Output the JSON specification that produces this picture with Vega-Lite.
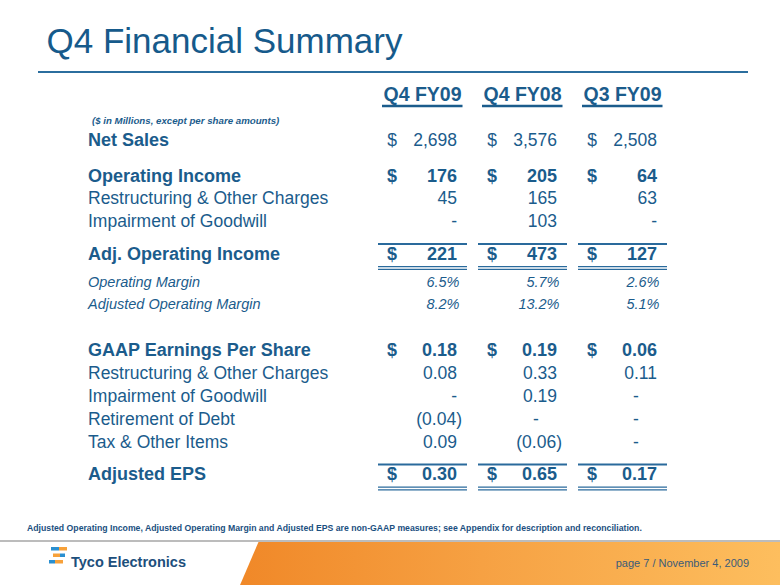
{
  "$schema": "https://vega.github.io/schema/vega-lite/v6.json",
  "width": 780,
  "height": 585,
  "padding": 0,
  "autosize": {"type": "none"},
  "background": "#ffffff",
  "config": {"view": {"stroke": null}, "text": {"font": "Liberation Sans", "color": "#1b5c8c"}},
  "datasets": {
    "periods": [
      {"col": 1, "period": "Q4 FY09"},
      {"col": 2, "period": "Q4 FY08"},
      {"col": 3, "period": "Q3 FY09"}
    ],
    "rows": [
      {"line": 0, "label": "Net Sales", "kind": "sales"},
      {"line": 1.58, "label": "Operating Income", "kind": "gaap"},
      {"line": 2.54, "label": "Restructuring & Other Charges", "kind": "detail"},
      {"line": 3.55, "label": "Impairment of Goodwill", "kind": "detail"},
      {"line": 5.0, "label": "Adj. Operating Income", "kind": "adjusted"},
      {"line": 6.23, "label": "Operating Margin", "kind": "ratio"},
      {"line": 7.19, "label": "Adjusted Operating Margin", "kind": "ratio"},
      {"line": 9.21, "label": "GAAP Earnings Per Share", "kind": "gaap"},
      {"line": 10.22, "label": "Restructuring & Other Charges", "kind": "detail"},
      {"line": 11.23, "label": "Impairment of Goodwill", "kind": "detail"},
      {"line": 12.24, "label": "Retirement of Debt", "kind": "detail"},
      {"line": 13.25, "label": "Tax & Other Items", "kind": "detail"},
      {"line": 14.67, "label": "Adjusted EPS", "kind": "adjusted"}
    ],
    "cells": [
      {"line": 0, "col": 1, "text": "2,698", "kind": "sales"},
      {"line": 0, "col": 2, "text": "3,576", "kind": "sales"},
      {"line": 0, "col": 3, "text": "2,508", "kind": "sales"},
      {"line": 1.58, "col": 1, "text": "176", "kind": "gaap"},
      {"line": 1.58, "col": 2, "text": "205", "kind": "gaap"},
      {"line": 1.58, "col": 3, "text": "64", "kind": "gaap"},
      {"line": 2.54, "col": 1, "text": "45", "kind": "detail"},
      {"line": 2.54, "col": 2, "text": "165", "kind": "detail"},
      {"line": 2.54, "col": 3, "text": "63", "kind": "detail"},
      {"line": 3.55, "col": 1, "text": "-", "kind": "detail"},
      {"line": 3.55, "col": 2, "text": "103", "kind": "detail"},
      {"line": 3.55, "col": 3, "text": "-", "kind": "detail"},
      {"line": 5.0, "col": 1, "text": "221", "kind": "adjusted"},
      {"line": 5.0, "col": 2, "text": "473", "kind": "adjusted"},
      {"line": 5.0, "col": 3, "text": "127", "kind": "adjusted"},
      {"line": 6.23, "col": 1, "text": "6.5%", "kind": "ratio"},
      {"line": 6.23, "col": 2, "text": "5.7%", "kind": "ratio"},
      {"line": 6.23, "col": 3, "text": "2.6%", "kind": "ratio"},
      {"line": 7.19, "col": 1, "text": "8.2%", "kind": "ratio"},
      {"line": 7.19, "col": 2, "text": "13.2%", "kind": "ratio"},
      {"line": 7.19, "col": 3, "text": "5.1%", "kind": "ratio"},
      {"line": 9.21, "col": 1, "text": "0.18", "kind": "gaap"},
      {"line": 9.21, "col": 2, "text": "0.19", "kind": "gaap"},
      {"line": 9.21, "col": 3, "text": "0.06", "kind": "gaap"},
      {"line": 10.22, "col": 1, "text": "0.08", "kind": "detail"},
      {"line": 10.22, "col": 2, "text": "0.33", "kind": "detail"},
      {"line": 10.22, "col": 3, "text": "0.11", "kind": "detail"},
      {"line": 11.23, "col": 1, "text": "-", "kind": "detail"},
      {"line": 11.23, "col": 2, "text": "0.19", "kind": "detail"},
      {"line": 11.23, "col": 3, "text": "-", "kind": "detail"},
      {"line": 12.24, "col": 1, "text": "(0.04)", "kind": "detail"},
      {"line": 12.24, "col": 2, "text": "-", "kind": "detail"},
      {"line": 12.24, "col": 3, "text": "-", "kind": "detail"},
      {"line": 13.25, "col": 1, "text": "0.09", "kind": "detail"},
      {"line": 13.25, "col": 2, "text": "(0.06)", "kind": "detail"},
      {"line": 13.25, "col": 3, "text": "-", "kind": "detail"},
      {"line": 14.67, "col": 1, "text": "0.30", "kind": "adjusted"},
      {"line": 14.67, "col": 2, "text": "0.65", "kind": "adjusted"},
      {"line": 14.67, "col": 3, "text": "0.17", "kind": "adjusted"}
    ]
  },
  "resolve": {"scale": {"x": "independent", "y": "independent"}},
  "layer": [
    {
      "data": {"values": [{}]},
      "layer": [
        {
          "mark": {"type": "rect", "fill": {"gradient": "linear", "x1": 0, "y1": 0, "x2": 1, "y2": 0, "stops": [{"offset": 0, "color": "#f08828"}, {"offset": 0.45, "color": "#f6a143"}, {"offset": 1, "color": "#fdbe5e"}]}},
          "encoding": {
            "x": {"datum": 238, "type": "quantitative", "scale": {"domain": [0, 780], "range": [0, 780], "nice": false, "zero": false}, "axis": null},
            "x2": {"datum": 780},
            "y": {"datum": 542, "type": "quantitative", "scale": {"domain": [0, 585], "range": [0, 585], "nice": false, "zero": false}, "axis": null},
            "y2": {"datum": 585}
          }
        },
        {
          "mark": {"type": "rule", "color": "#ffffff", "strokeWidth": 20, "strokeCap": "butt"},
          "encoding": {
            "x": {"datum": 254.4, "type": "quantitative", "scale": {"domain": [0, 780], "range": [0, 780], "nice": false, "zero": false}, "axis": null},
            "x2": {"datum": 224.4},
            "y": {"datum": 526.1, "type": "quantitative", "scale": {"domain": [0, 585], "range": [0, 585], "nice": false, "zero": false}, "axis": null},
            "y2": {"datum": 596.1}
          }
        },
        {
          "mark": {"type": "rule", "color": "#a6a6a6", "strokeWidth": 1.5},
          "encoding": {
            "x": {"datum": 0, "type": "quantitative", "scale": {"domain": [0, 780], "range": [0, 780], "nice": false, "zero": false}, "axis": null},
            "x2": {"datum": 780},
            "y": {"datum": 541, "type": "quantitative", "scale": {"domain": [0, 585], "range": [0, 585], "nice": false, "zero": false}, "axis": null}
          }
        },
        {
          "mark": {"type": "text", "text": "Adjusted Operating Income, Adjusted Operating Margin and Adjusted EPS are non-GAAP measures; see Appendix for description and reconciliation.", "font": "Liberation Sans", "fontWeight": "bold", "fontSize": 8.7, "align": "left", "baseline": "middle", "color": "#1a4f80"},
          "encoding": {
            "x": {"datum": 27, "type": "quantitative", "scale": {"domain": [0, 780], "range": [0, 780], "nice": false, "zero": false}, "axis": null},
            "y": {"datum": 528, "type": "quantitative", "scale": {"domain": [0, 585], "range": [0, 585], "nice": false, "zero": false}, "axis": null}
          }
        },
        {
          "mark": {"type": "text", "text": "Q4 Financial Summary", "fontSize": 35, "align": "left", "baseline": "alphabetic", "color": "#165a8b"},
          "encoding": {
            "x": {"datum": 46.5, "type": "quantitative", "scale": {"domain": [0, 780], "range": [0, 780], "nice": false, "zero": false}, "axis": null},
            "y": {"datum": 52.5, "type": "quantitative", "scale": {"domain": [0, 585], "range": [0, 585], "nice": false, "zero": false}, "axis": null}
          }
        },
        {
          "mark": {"type": "rule", "color": "#2b6e9e", "strokeWidth": 2},
          "encoding": {
            "x": {"datum": 38, "type": "quantitative", "scale": {"domain": [0, 780], "range": [0, 780], "nice": false, "zero": false}, "axis": null},
            "x2": {"datum": 748},
            "y": {"datum": 72, "type": "quantitative", "scale": {"domain": [0, 585], "range": [0, 585], "nice": false, "zero": false}, "axis": null}
          }
        },
        {
          "mark": {"type": "rect", "fill": {"gradient": "linear", "x1": 0, "y1": 0, "x2": 1, "y2": 0, "stops": [{"offset": 0, "color": "#2a8fd0"}, {"offset": 0.5, "color": "#2a8fd0"}, {"offset": 0.5, "color": "#f7a13a"}, {"offset": 1, "color": "#f7a13a"}]}},
          "encoding": {
            "x": {"datum": 51, "type": "quantitative", "scale": {"domain": [0, 780], "range": [0, 780], "nice": false, "zero": false}, "axis": null},
            "x2": {"datum": 67},
            "y": {"datum": 547, "type": "quantitative", "scale": {"domain": [0, 585], "range": [0, 585], "nice": false, "zero": false}, "axis": null},
            "y2": {"datum": 550.5}
          }
        },
        {
          "mark": {"type": "rect", "fill": {"gradient": "linear", "x1": 0, "y1": 0, "x2": 1, "y2": 0, "stops": [{"offset": 0, "color": "#f7a13a"}, {"offset": 0.6, "color": "#f7a13a"}, {"offset": 0.6, "color": "#2a8fd0"}, {"offset": 1, "color": "#2a8fd0"}]}},
          "encoding": {
            "x": {"datum": 53, "type": "quantitative", "scale": {"domain": [0, 780], "range": [0, 780], "nice": false, "zero": false}, "axis": null},
            "x2": {"datum": 65},
            "y": {"datum": 553.5, "type": "quantitative", "scale": {"domain": [0, 585], "range": [0, 585], "nice": false, "zero": false}, "axis": null},
            "y2": {"datum": 557}
          }
        },
        {
          "mark": {"type": "rect", "fill": {"gradient": "linear", "x1": 0, "y1": 0, "x2": 1, "y2": 0, "stops": [{"offset": 0, "color": "#2a8fd0"}, {"offset": 0.45, "color": "#2a8fd0"}, {"offset": 0.45, "color": "#f7a13a"}, {"offset": 1, "color": "#f7a13a"}]}},
          "encoding": {
            "x": {"datum": 49, "type": "quantitative", "scale": {"domain": [0, 780], "range": [0, 780], "nice": false, "zero": false}, "axis": null},
            "x2": {"datum": 63},
            "y": {"datum": 560, "type": "quantitative", "scale": {"domain": [0, 585], "range": [0, 585], "nice": false, "zero": false}, "axis": null},
            "y2": {"datum": 563.5}
          }
        },
        {
          "mark": {"type": "text", "text": "Tyco Electronics", "fontSize": 14.5, "fontWeight": "bold", "align": "left", "baseline": "middle", "color": "#1d4f7c"},
          "encoding": {
            "x": {"datum": 71, "type": "quantitative", "scale": {"domain": [0, 780], "range": [0, 780], "nice": false, "zero": false}, "axis": null},
            "y": {"datum": 563, "type": "quantitative", "scale": {"domain": [0, 585], "range": [0, 585], "nice": false, "zero": false}, "axis": null}
          }
        },
        {
          "mark": {"type": "text", "text": "page 7 / November 4, 2009", "fontSize": 11, "align": "right", "baseline": "middle", "color": "#3b5b78"},
          "encoding": {
            "x": {"datum": 749, "type": "quantitative", "scale": {"domain": [0, 780], "range": [0, 780], "nice": false, "zero": false}, "axis": null},
            "y": {"datum": 564, "type": "quantitative", "scale": {"domain": [0, 585], "range": [0, 585], "nice": false, "zero": false}, "axis": null}
          }
        }
      ]
    },
    {
      "layer": [
        {
          "data": {"name": "periods"},
          "mark": {"type": "text", "fontWeight": "bold", "fontSize": 19.5, "align": "center", "baseline": "middle", "dx": -34.5},
          "encoding": {
            "x": {"field": "col", "type": "quantitative", "scale": {"domain": [0, 1, 3], "range": [88, 457, 657], "nice": false, "zero": false}, "axis": null},
            "y": {"datum": -2.02, "type": "quantitative", "scale": {"domain": [0, 14.74], "range": [141, 477], "nice": false, "zero": false}, "axis": null},
            "text": {"field": "period"}
          }
        },
        {
          "data": {"name": "periods"},
          "mark": {"type": "rule", "strokeWidth": 2.5, "color": "#1b5c8c", "xOffset": -75, "x2Offset": 5.5, "yOffset": 11},
          "encoding": {
            "x": {"field": "col", "type": "quantitative", "scale": {"domain": [0, 1, 3], "range": [88, 457, 657], "nice": false, "zero": false}, "axis": null},
            "x2": {"field": "col"},
            "y": {"datum": -2.02, "type": "quantitative", "scale": {"domain": [0, 14.74], "range": [141, 477], "nice": false, "zero": false}, "axis": null}
          }
        },
        {
          "data": {"values": [{}]},
          "mark": {"type": "text", "text": "($ in Millions, except per share amounts)", "fontWeight": "bold", "fontStyle": "italic", "fontSize": 9.7, "align": "left", "baseline": "middle", "dx": 4},
          "encoding": {
            "x": {"datum": 0, "type": "quantitative", "scale": {"domain": [0, 1, 3], "range": [88, 457, 657], "nice": false, "zero": false}, "axis": null},
            "y": {"datum": -0.88, "type": "quantitative", "scale": {"domain": [0, 14.74], "range": [141, 477], "nice": false, "zero": false}, "axis": null}
          }
        },
        {
          "data": {"name": "rows"},
          "transform": [{"filter": "datum.kind === 'sales' || datum.kind === 'gaap' || datum.kind === 'adjusted'"}],
          "mark": {"type": "text", "fontWeight": "bold", "fontSize": 18, "align": "left", "baseline": "middle"},
          "encoding": {
            "x": {"datum": 0, "type": "quantitative", "scale": {"domain": [0, 1, 3], "range": [88, 457, 657], "nice": false, "zero": false}, "axis": null},
            "y": {"field": "line", "type": "quantitative", "scale": {"domain": [0, 14.74], "range": [141, 477], "nice": false, "zero": false}, "axis": null},
            "text": {"field": "label"}
          }
        },
        {
          "data": {"name": "rows"},
          "transform": [{"filter": "datum.kind === 'detail'"}],
          "mark": {"type": "text", "fontSize": 17.5, "align": "left", "baseline": "middle"},
          "encoding": {
            "x": {"datum": 0, "type": "quantitative", "scale": {"domain": [0, 1, 3], "range": [88, 457, 657], "nice": false, "zero": false}, "axis": null},
            "y": {"field": "line", "type": "quantitative", "scale": {"domain": [0, 14.74], "range": [141, 477], "nice": false, "zero": false}, "axis": null},
            "text": {"field": "label"}
          }
        },
        {
          "data": {"name": "rows"},
          "transform": [{"filter": "datum.kind === 'ratio'"}],
          "mark": {"type": "text", "fontSize": 14.5, "fontStyle": "italic", "align": "left", "baseline": "middle"},
          "encoding": {
            "x": {"datum": 0, "type": "quantitative", "scale": {"domain": [0, 1, 3], "range": [88, 457, 657], "nice": false, "zero": false}, "axis": null},
            "y": {"field": "line", "type": "quantitative", "scale": {"domain": [0, 14.74], "range": [141, 477], "nice": false, "zero": false}, "axis": null},
            "text": {"field": "label"}
          }
        },
        {
          "data": {"name": "cells"},
          "transform": [{"filter": "datum.kind === 'gaap' || datum.kind === 'adjusted'"}],
          "mark": {"type": "text", "fontWeight": "bold", "fontSize": 18, "align": "right", "baseline": "middle"},
          "encoding": {
            "x": {"field": "col", "type": "quantitative", "scale": {"domain": [0, 1, 3], "range": [88, 457, 657], "nice": false, "zero": false}, "axis": null},
            "y": {"field": "line", "type": "quantitative", "scale": {"domain": [0, 14.74], "range": [141, 477], "nice": false, "zero": false}, "axis": null},
            "text": {"field": "text"}
          }
        },
        {
          "data": {"name": "cells"},
          "transform": [{"filter": "(datum.kind === 'sales' || datum.kind === 'detail') && indexof(datum.text, '(') !== 0 && !(datum.text === '-' && datum.line > 9 && datum.col > 1)"}],
          "mark": {"type": "text", "fontSize": 17.5, "align": "right", "baseline": "middle"},
          "encoding": {
            "x": {"field": "col", "type": "quantitative", "scale": {"domain": [0, 1, 3], "range": [88, 457, 657], "nice": false, "zero": false}, "axis": null},
            "y": {"field": "line", "type": "quantitative", "scale": {"domain": [0, 14.74], "range": [141, 477], "nice": false, "zero": false}, "axis": null},
            "text": {"field": "text"}
          }
        },
        {
          "data": {"name": "cells"},
          "transform": [{"filter": "indexof(datum.text, '(') === 0"}],
          "mark": {"type": "text", "fontSize": 17.5, "align": "right", "baseline": "middle", "dx": 5},
          "encoding": {
            "x": {"field": "col", "type": "quantitative", "scale": {"domain": [0, 1, 3], "range": [88, 457, 657], "nice": false, "zero": false}, "axis": null},
            "y": {"field": "line", "type": "quantitative", "scale": {"domain": [0, 14.74], "range": [141, 477], "nice": false, "zero": false}, "axis": null},
            "text": {"field": "text"}
          }
        },
        {
          "data": {"name": "cells"},
          "transform": [{"filter": "datum.text === '-' && datum.line > 9 && datum.col > 1"}],
          "mark": {"type": "text", "fontSize": 17.5, "align": "center", "baseline": "middle", "dx": -21},
          "encoding": {
            "x": {"field": "col", "type": "quantitative", "scale": {"domain": [0, 1, 3], "range": [88, 457, 657], "nice": false, "zero": false}, "axis": null},
            "y": {"field": "line", "type": "quantitative", "scale": {"domain": [0, 14.74], "range": [141, 477], "nice": false, "zero": false}, "axis": null},
            "text": {"field": "text"}
          }
        },
        {
          "data": {"name": "cells"},
          "transform": [{"filter": "datum.kind === 'ratio'"}],
          "mark": {"type": "text", "fontSize": 14.5, "fontStyle": "italic", "align": "right", "baseline": "middle", "dx": 2.5},
          "encoding": {
            "x": {"field": "col", "type": "quantitative", "scale": {"domain": [0, 1, 3], "range": [88, 457, 657], "nice": false, "zero": false}, "axis": null},
            "y": {"field": "line", "type": "quantitative", "scale": {"domain": [0, 14.74], "range": [141, 477], "nice": false, "zero": false}, "axis": null},
            "text": {"field": "text"}
          }
        },
        {
          "data": {"name": "cells"},
          "transform": [{"filter": "datum.kind === 'sales'"}],
          "mark": {"type": "text", "text": "$", "fontSize": 17.5, "align": "center", "baseline": "middle", "dx": -65},
          "encoding": {
            "x": {"field": "col", "type": "quantitative", "scale": {"domain": [0, 1, 3], "range": [88, 457, 657], "nice": false, "zero": false}, "axis": null},
            "y": {"field": "line", "type": "quantitative", "scale": {"domain": [0, 14.74], "range": [141, 477], "nice": false, "zero": false}, "axis": null}
          }
        },
        {
          "data": {"name": "cells"},
          "transform": [{"filter": "datum.kind === 'gaap' || datum.kind === 'adjusted'"}],
          "mark": {"type": "text", "text": "$", "fontWeight": "bold", "fontSize": 18, "align": "center", "baseline": "middle", "dx": -65},
          "encoding": {
            "x": {"field": "col", "type": "quantitative", "scale": {"domain": [0, 1, 3], "range": [88, 457, 657], "nice": false, "zero": false}, "axis": null},
            "y": {"field": "line", "type": "quantitative", "scale": {"domain": [0, 14.74], "range": [141, 477], "nice": false, "zero": false}, "axis": null}
          }
        },
        {
          "data": {"name": "cells"},
          "transform": [{"filter": "datum.kind === 'adjusted'"}],
          "mark": {"type": "rule", "strokeWidth": 2, "color": "#2a6a9c", "xOffset": -79, "x2Offset": 10, "yOffset": -11},
          "encoding": {
            "x": {"field": "col", "type": "quantitative", "scale": {"domain": [0, 1, 3], "range": [88, 457, 657], "nice": false, "zero": false}, "axis": null},
            "x2": {"field": "col"},
            "y": {"field": "line", "type": "quantitative", "scale": {"domain": [0, 14.74], "range": [141, 477], "nice": false, "zero": false}, "axis": null}
          }
        },
        {
          "data": {"name": "cells"},
          "transform": [{"filter": "datum.kind === 'adjusted'"}],
          "mark": {"type": "rule", "strokeWidth": 1.3, "color": "#2a6a9c", "xOffset": -79, "x2Offset": 10, "yOffset": 11.7},
          "encoding": {
            "x": {"field": "col", "type": "quantitative", "scale": {"domain": [0, 1, 3], "range": [88, 457, 657], "nice": false, "zero": false}, "axis": null},
            "x2": {"field": "col"},
            "y": {"field": "line", "type": "quantitative", "scale": {"domain": [0, 14.74], "range": [141, 477], "nice": false, "zero": false}, "axis": null}
          }
        },
        {
          "data": {"name": "cells"},
          "transform": [{"filter": "datum.kind === 'adjusted'"}],
          "mark": {"type": "rule", "strokeWidth": 1.3, "color": "#2a6a9c", "xOffset": -79, "x2Offset": 10, "yOffset": 14.4},
          "encoding": {
            "x": {"field": "col", "type": "quantitative", "scale": {"domain": [0, 1, 3], "range": [88, 457, 657], "nice": false, "zero": false}, "axis": null},
            "x2": {"field": "col"},
            "y": {"field": "line", "type": "quantitative", "scale": {"domain": [0, 14.74], "range": [141, 477], "nice": false, "zero": false}, "axis": null}
          }
        }
      ]
    }
  ]
}
